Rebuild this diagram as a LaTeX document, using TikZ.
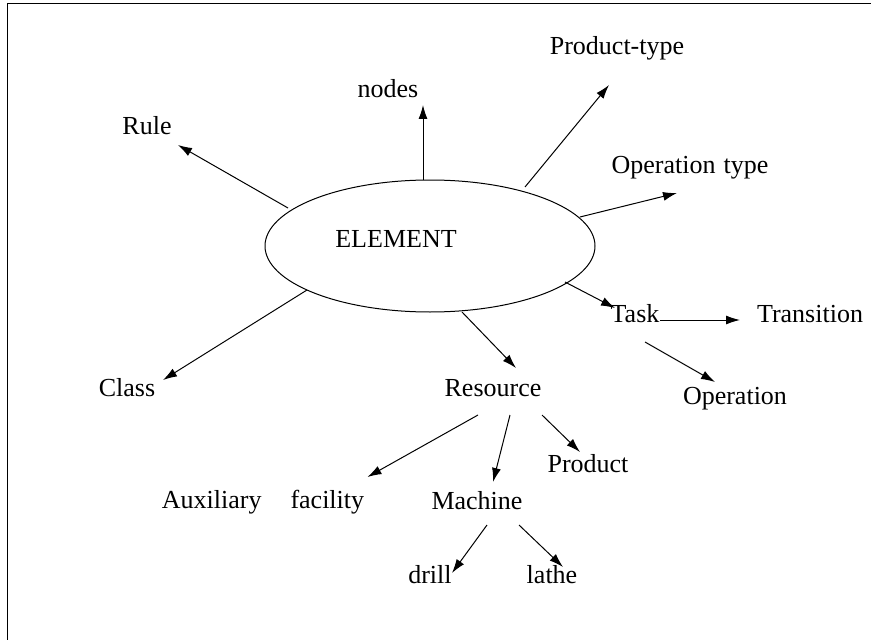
\documentclass[tikz,border=0pt]{standalone}
\usepackage{fontspec}
\setmainfont{Liberation Serif}
\usetikzlibrary{arrows.meta,shapes.geometric}
\begin{document}
\begin{tikzpicture}[x=1pt,y=-1pt,
  lbl/.style={font=\fontsize{26}{30}\selectfont, inner sep=0pt, anchor=base},
  arr/.style={line width=1pt, -{Latex[length=14pt,width=9pt]}},
  frame/.style={line width=1pt}
  ]
\useasboundingbox (0,0) rectangle (871,642);
\draw[frame] (871,4) -- (7,4) -- (7,640);
\node[ellipse, draw, line width=1pt, minimum width=330pt, minimum height=132pt, inner sep=0pt] (el) at (430,246) {};
\node[lbl] (elt) at (396,247) {ELEMENT};
\node[lbl] (rule) at (147,135) {Rule};
\node[lbl] (nodes) at (388,98) {nodes};
\node[lbl] (ptype) at (617,55) {Product-type};
\node[lbl] (otype) at (690,173) {Operation\hspace{8pt}type};
\node[lbl] (task) at (635,322) {Task};
\node[lbl] (trans) at (810,322) {Transition};
\node[lbl] (oper) at (735,404) {Operation};
\node[lbl] (class) at (127,396) {Class};
\node[lbl] (res) at (493,396) {Resource};
\node[lbl] (prod) at (588,472) {Product};
\node[lbl] (aux) at (263,508) {Auxiliary\hspace{29pt}facility};
\node[lbl] (mach) at (477,509) {Machine};
\node[lbl] (drill) at (430,583) {drill};
\node[lbl] (lathe) at (552,583) {lathe};

\draw[arr] ([shift={(-142,-38)}]el.center) -- ([shift={(31,10)}]rule.base);
\draw[arr] ([shift={(-7,-66)}]el.center) -- ([shift={(35,7)}]nodes.base);
\draw[arr] ([shift={(95,-59)}]el.center) -- ([shift={(-8,30)}]ptype.base);
\draw[arr] ([shift={(150,-29)}]el.center) -- ([shift={(-13,20)}]otype.base);
\draw[arr] ([shift={(135,36)}]el.center) -- ([shift={(-20,-14)}]task.base);
\draw[arr] ([shift={(25,-2)}]task.base) -- ([shift={(-70,-2)}]trans.base);
\draw[arr] ([shift={(10,20)}]task.base) -- ([shift={(-20,-22)}]oper.base);
\draw[arr] ([shift={(32,66)}]el.center) -- ([shift={(23,-28)}]res.base);
\draw[arr] ([shift={(-123,44)}]el.center) -- ([shift={(36,-16)}]class.base);
\draw[arr] ([shift={(-15,19)}]res.base) -- ([shift={(104.5,-31)}]aux.base);
\draw[arr] ([shift={(17,19)}]res.base) -- ([shift={(16,-27)}]mach.base);
\draw[arr] ([shift={(49,19)}]res.base) -- ([shift={(-8,-20)}]prod.base);
\draw[arr] ([shift={(10,16)}]mach.base) -- ([shift={(22,-10)}]drill.base);
\draw[arr] ([shift={(42,16)}]mach.base) -- ([shift={(11,-16)}]lathe.base);
\end{tikzpicture}
\end{document}
